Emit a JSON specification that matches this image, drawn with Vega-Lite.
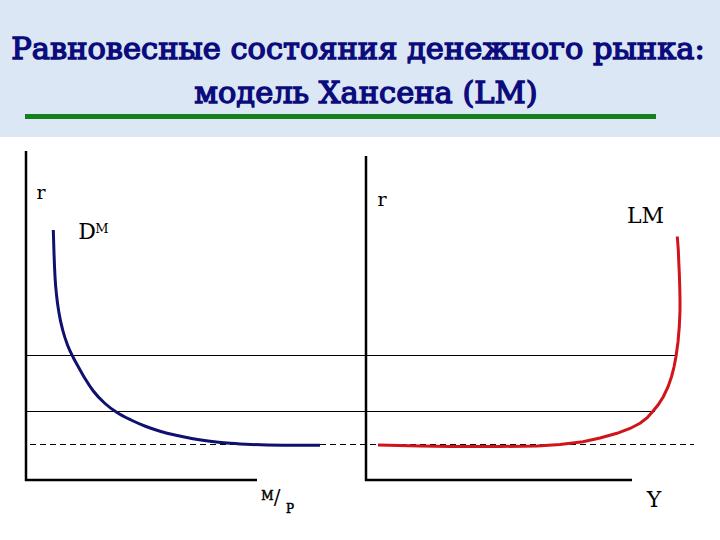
{
  "$schema": "https://vega.github.io/schema/vega-lite/v6.json",
  "width": 720,
  "height": 540,
  "autosize": {"type": "fit", "contains": "padding"},
  "padding": 0,
  "background": "white",
  "config": {"view": {"stroke": null}, "text": {"font": "DejaVu Serif"}},
  "datasets": {
    "band": [{"x": 0, "x2": 720, "y": 0, "y2": 137}],
    "underline": [{"x": 25, "x2": 656, "y": 116.5}],
    "title": [
      {"text": "Равновесные состояния денежного рынка:", "x": 358, "y": 59},
      {"text": "модель Хансена (LM)", "x": 366, "y": 103}
    ],
    "axes": [
      {"panel": "left", "x": 26, "x2": 26, "y": 151, "y2": 481},
      {"panel": "left", "x": 25, "x2": 257, "y": 480, "y2": 480},
      {"panel": "right", "x": 366, "x2": 366, "y": 156, "y2": 481},
      {"panel": "right", "x": 365, "x2": 632, "y": 480, "y2": 480}
    ],
    "levels": [
      {"level": "upper", "x": 26, "x2": 676, "y": 355.5},
      {"level": "lower", "x": 26, "x2": 655, "y": 411.5}
    ],
    "floor": [{"x": 30, "x2": 694, "y": 444.5}],
    "curves": [
      {"curve": "DM", "i": 0, "x": 53.3, "y": 230},
      {"curve": "DM", "i": 1, "x": 54, "y": 253},
      {"curve": "DM", "i": 2, "x": 55, "y": 276.5},
      {"curve": "DM", "i": 3, "x": 56.7, "y": 296.5},
      {"curve": "DM", "i": 4, "x": 59, "y": 313},
      {"curve": "DM", "i": 5, "x": 62.7, "y": 330},
      {"curve": "DM", "i": 6, "x": 67.5, "y": 345},
      {"curve": "DM", "i": 7, "x": 73.5, "y": 358},
      {"curve": "DM", "i": 8, "x": 79, "y": 368},
      {"curve": "DM", "i": 9, "x": 85, "y": 378.5},
      {"curve": "DM", "i": 10, "x": 93.3, "y": 391},
      {"curve": "DM", "i": 11, "x": 105, "y": 403.5},
      {"curve": "DM", "i": 12, "x": 117, "y": 412.5},
      {"curve": "DM", "i": 13, "x": 131, "y": 420},
      {"curve": "DM", "i": 14, "x": 146, "y": 426.5},
      {"curve": "DM", "i": 15, "x": 160, "y": 431.2},
      {"curve": "DM", "i": 16, "x": 176, "y": 435.3},
      {"curve": "DM", "i": 17, "x": 193, "y": 438.7},
      {"curve": "DM", "i": 18, "x": 210, "y": 441.2},
      {"curve": "DM", "i": 19, "x": 227, "y": 443},
      {"curve": "DM", "i": 20, "x": 246, "y": 444.2},
      {"curve": "DM", "i": 21, "x": 267, "y": 445},
      {"curve": "DM", "i": 22, "x": 290, "y": 445.2},
      {"curve": "DM", "i": 23, "x": 320, "y": 445.2},
      {"curve": "LM", "i": 0, "x": 378, "y": 445},
      {"curve": "LM", "i": 1, "x": 420, "y": 446},
      {"curve": "LM", "i": 2, "x": 450, "y": 446.5},
      {"curve": "LM", "i": 3, "x": 500, "y": 446.5},
      {"curve": "LM", "i": 4, "x": 537, "y": 446},
      {"curve": "LM", "i": 5, "x": 560, "y": 444.5},
      {"curve": "LM", "i": 6, "x": 583, "y": 441.7},
      {"curve": "LM", "i": 7, "x": 600, "y": 438},
      {"curve": "LM", "i": 8, "x": 617, "y": 433.3},
      {"curve": "LM", "i": 9, "x": 630, "y": 428.5},
      {"curve": "LM", "i": 10, "x": 640, "y": 423.3},
      {"curve": "LM", "i": 11, "x": 647, "y": 418},
      {"curve": "LM", "i": 12, "x": 652.5, "y": 411.7},
      {"curve": "LM", "i": 13, "x": 658, "y": 405},
      {"curve": "LM", "i": 14, "x": 663.3, "y": 396.7},
      {"curve": "LM", "i": 15, "x": 668, "y": 387},
      {"curve": "LM", "i": 16, "x": 671.5, "y": 376.7},
      {"curve": "LM", "i": 17, "x": 674, "y": 367},
      {"curve": "LM", "i": 18, "x": 676, "y": 356.5},
      {"curve": "LM", "i": 19, "x": 678, "y": 342},
      {"curve": "LM", "i": 20, "x": 679.3, "y": 326.7},
      {"curve": "LM", "i": 21, "x": 680, "y": 310},
      {"curve": "LM", "i": 22, "x": 680, "y": 300},
      {"curve": "LM", "i": 23, "x": 679.7, "y": 285},
      {"curve": "LM", "i": 24, "x": 679.3, "y": 273.3},
      {"curve": "LM", "i": 25, "x": 678.7, "y": 260},
      {"curve": "LM", "i": 26, "x": 678.3, "y": 250},
      {"curve": "LM", "i": 27, "x": 677.7, "y": 242},
      {"curve": "LM", "i": 28, "x": 677.3, "y": 236.5}
    ],
    "axisNames": [
      {"text": "r", "x": 41, "y": 199},
      {"text": "r", "x": 382, "y": 206}
    ],
    "curveNames": [
      {"text": "D", "x": 87, "y": 239},
      {"text": "LM", "x": 645.5, "y": 223},
      {"text": "Y", "x": 654, "y": 507}
    ],
    "superscripts": [{"text": "M", "x": 102, "y": 233}],
    "fractionParts": [
      {"text": "M", "x": 267.5, "y": 500},
      {"text": "P", "x": 290, "y": 513}
    ],
    "slash": [{"text": "/", "x": 277, "y": 504}]
  },
  "encoding": {
    "x": {"field": "x", "type": "quantitative", "scale": {"domain": [0, 720], "nice": false, "zero": false}, "axis": null},
    "y": {"field": "y", "type": "quantitative", "scale": {"domain": [0, 540], "nice": false, "zero": false, "reverse": true}, "axis": null}
  },
  "layer": [
    {
      "data": {"name": "band"},
      "mark": {"type": "rect", "color": "#dbe7f5"},
      "encoding": {"x2": {"field": "x2"}, "y2": {"field": "y2"}}
    },
    {
      "data": {"name": "underline"},
      "mark": {"type": "rule", "color": "#14801e", "strokeWidth": 5},
      "encoding": {"x2": {"field": "x2"}}
    },
    {
      "data": {"name": "title"},
      "mark": {"type": "text", "fontWeight": "normal", "fontSize": 30.5, "fill": "#0b0b7c", "stroke": "#0b0b7c", "strokeWidth": 1.4, "align": "center", "baseline": "alphabetic"},
      "encoding": {"text": {"field": "text"}}
    },
    {
      "data": {"name": "levels"},
      "mark": {"type": "rule", "color": "black", "strokeWidth": 1},
      "encoding": {"x2": {"field": "x2"}}
    },
    {
      "data": {"name": "floor"},
      "mark": {"type": "rule", "color": "black", "strokeWidth": 1, "strokeDash": [6, 4]},
      "encoding": {"x2": {"field": "x2"}}
    },
    {
      "data": {"name": "axes"},
      "mark": {"type": "rule", "color": "black", "strokeWidth": 2.5},
      "encoding": {"x2": {"field": "x2"}, "y2": {"field": "y2"}}
    },
    {
      "data": {"name": "curves"},
      "transform": [{"filter": "datum.curve === 'DM'"}],
      "mark": {"type": "line", "color": "#10106e", "strokeWidth": 3, "interpolate": "monotone"},
      "encoding": {"order": {"field": "i", "type": "quantitative"}}
    },
    {
      "data": {"name": "curves"},
      "transform": [{"filter": "datum.curve === 'LM'"}],
      "mark": {"type": "line", "color": "#d0141a", "strokeWidth": 3, "interpolate": "linear"},
      "encoding": {"order": {"field": "i", "type": "quantitative"}}
    },
    {
      "data": {"name": "axisNames"},
      "mark": {"type": "text", "fontSize": 19, "color": "black", "align": "center", "baseline": "alphabetic"},
      "encoding": {"text": {"field": "text"}}
    },
    {
      "data": {"name": "curveNames"},
      "mark": {"type": "text", "fontSize": 22, "color": "black", "align": "center", "baseline": "alphabetic"},
      "encoding": {"text": {"field": "text"}}
    },
    {
      "data": {"name": "superscripts"},
      "mark": {"type": "text", "fontSize": 13, "color": "black", "align": "center", "baseline": "alphabetic"},
      "encoding": {"text": {"field": "text"}}
    },
    {
      "data": {"name": "fractionParts"},
      "mark": {"type": "text", "fontWeight": "normal", "fontSize": 12, "fill": "black", "stroke": "black", "strokeWidth": 0.5, "align": "center", "baseline": "alphabetic"},
      "encoding": {"text": {"field": "text"}}
    },
    {
      "data": {"name": "slash"},
      "mark": {"type": "text", "fontSize": 20, "color": "black", "align": "center", "baseline": "alphabetic"},
      "encoding": {"text": {"field": "text"}}
    }
  ]
}
